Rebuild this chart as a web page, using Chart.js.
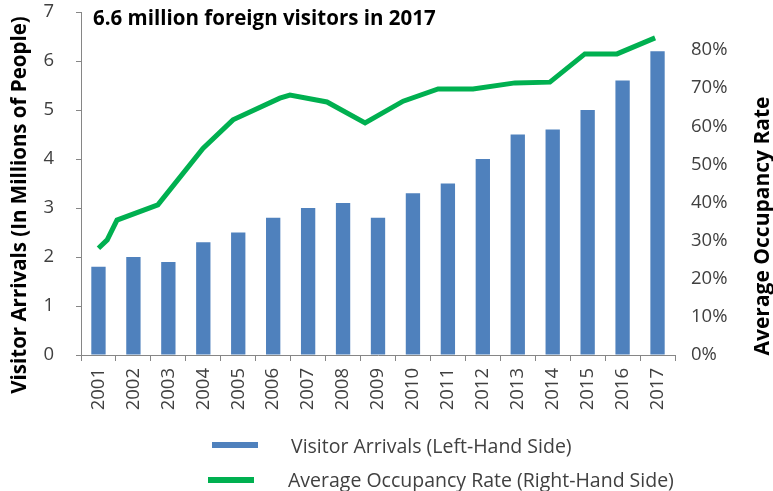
<!DOCTYPE html>
<html>
<head>
<meta charset="utf-8">
<script src="https://cdn.jsdelivr.net/npm/chart.js@4.4.1/dist/chart.umd.min.js"></script>
<style>
  html, body { margin: 0; padding: 0; background: #fff; }
</style>
</head>
<body>
<canvas id="myChart" width="773" height="491"></canvas>
<script>
const years = ["2001", "2002", "2003", "2004", "2005", "2006", "2007", "2008", "2009",
  "2010", "2011", "2012", "2013", "2014", "2015", "2016", "2017"];
const arrivals = [1.8, 2.0, 1.9, 2.3, 2.5, 2.8, 3.0, 3.1, 2.8, 3.3, 3.5, 4.0, 4.5, 4.6, 5.0, 5.6, 6.2];
// occupancy line is drawn on its own (hidden) year axis, the points don't sit on bar centres
const occYears = [2001.0, 2001.25, 2001.53, 2002.7, 2003.99, 2004.85, 2006.19, 2006.48, 2007.54,
  2008.63, 2009.72, 2010.72, 2011.72, 2012.92, 2013.92, 2014.92, 2015.84, 2016.93];
const occRates = [0.28, 0.302, 0.354, 0.394, 0.542, 0.617, 0.674, 0.682, 0.664,
  0.609, 0.666, 0.698, 0.698, 0.714, 0.716, 0.79, 0.79, 0.832];
const leftTicks = ["0", "1", "2", "3", "4", "5", "6", "7"];
const rightTicks = ["0%", "10%", "20%", "30%", "40%", "50%", "60%", "70%", "80%"];

const axisGray = "#868686";
const textGray = "#404040";
Chart.defaults.font.family = "'Open Sans', sans-serif";

const extras = {
    id: "extras",
    afterDraw(chart) {
        const c = chart.ctx;
        const area = chart.chartArea;
        c.save();
        c.fillStyle = "#000";
        c.font = "bold 20.5px 'Open Sans', sans-serif";
        c.textBaseline = "middle";
        c.textAlign = "left";
        c.fillText("6.6 million foreign visitors in 2017", area.left + 12, 19);

        // axis titles
        c.textAlign = "center";
        c.save();
        c.translate(20, 205);
        c.rotate(-Math.PI / 2);
        c.fillText("Visitor Arrivals (In Millions of People)", 0, 0);
        c.restore();
        c.save();
        c.font = "bold 21px 'Open Sans', sans-serif";
        c.translate(763, 226);
        c.rotate(-Math.PI / 2);
        c.fillText("Average Occupancy Rate", 0, 0);
        c.restore();

        // legend, stacked
        const rows = [
            { sx: 212, sy: 442, tx: 291, ty: 447 },
            { sx: 208, sy: 477, tx: 288, ty: 481 },
        ];
        c.font = "19.5px 'Open Sans', sans-serif";
        c.textAlign = "left";
        chart.data.datasets.forEach((ds, i) => {
            const r = rows[i];
            c.fillStyle = ds.legendColor;
            c.fillRect(r.sx, r.sy, 46, 6);
            c.fillStyle = textGray;
            c.fillText(ds.label, r.tx, r.ty);
        });
        c.restore();
    },
};

function fixY(width) {
    return (s) => {
        s.width = width;
        s.paddingTop = 0;
        s.paddingBottom = 0;
    };
}

new Chart(document.getElementById("myChart"), {
    type: "bar",
    data: {
        labels: years,
        datasets: [
            {
                label: "Visitor Arrivals (Left-Hand Side)",
                data: arrivals,
                backgroundColor: "#4F81BD",
                legendColor: "#4F81BD",
                barPercentage: 0.41,
                categoryPercentage: 1,
                grouped: false,
                yAxisID: "y",
                xAxisID: "x",
                order: 1,
            },
            {
                type: "line",
                label: "Average Occupancy Rate (Right-Hand Side)",
                data: occYears.map((yr, i) => ({ x: yr, y: occRates[i] })),
                borderColor: "#00B050",
                legendColor: "#00B050",
                borderWidth: 5,
                pointRadius: 0,
                tension: 0,
                fill: false,
                xAxisID: "x2",
                yAxisID: "y1",
                order: 0,
            },
        ],
    },
    options: {
        responsive: false,
        animation: false,
        layout: { padding: { top: 12 } },
        plugins: {
            legend: { display: false },
            tooltip: { enabled: false },
        },
        scales: {
            x: {
                offset: true,
                grid: { offset: true, drawOnChartArea: false, tickLength: 6, color: axisGray },
                border: { color: axisGray },
                ticks: { minRotation: 90, maxRotation: 90, padding: 7, color: textGray, font: { size: 18.5 } },
                afterFit(s) {
                    s.height = 136;
                    s.paddingLeft = 0;
                    s.paddingRight = 0;
                },
            },
            x2: {
                type: "linear",
                min: 2000.5,
                max: 2017.5,
                offset: false,
                grid: { offset: false },
                display: false,
            },
            y: {
                position: "left",
                min: 0,
                max: 7,
                grid: { drawOnChartArea: false, tickLength: 5, color: axisGray },
                border: { color: axisGray },
                ticks: {
                    stepSize: 1,
                    padding: 22,
                    color: textGray,
                    font: { size: 18.5 },
                    callback: (v, i) => leftTicks[i],
                },
                afterFit: fixY(81),
            },
            y1: {
                position: "right",
                min: 0,
                max: 0.9,
                grid: { display: false },
                border: { display: false },
                ticks: {
                    stepSize: 0.1,
                    padding: 8,
                    color: textGray,
                    font: { size: 18.5 },
                    callback: (v, i) => rightTicks[i] || "",
                },
                afterFit: fixY(98),
            },
        },
    },
    plugins: [extras],
});
</script>
</body>
</html>
